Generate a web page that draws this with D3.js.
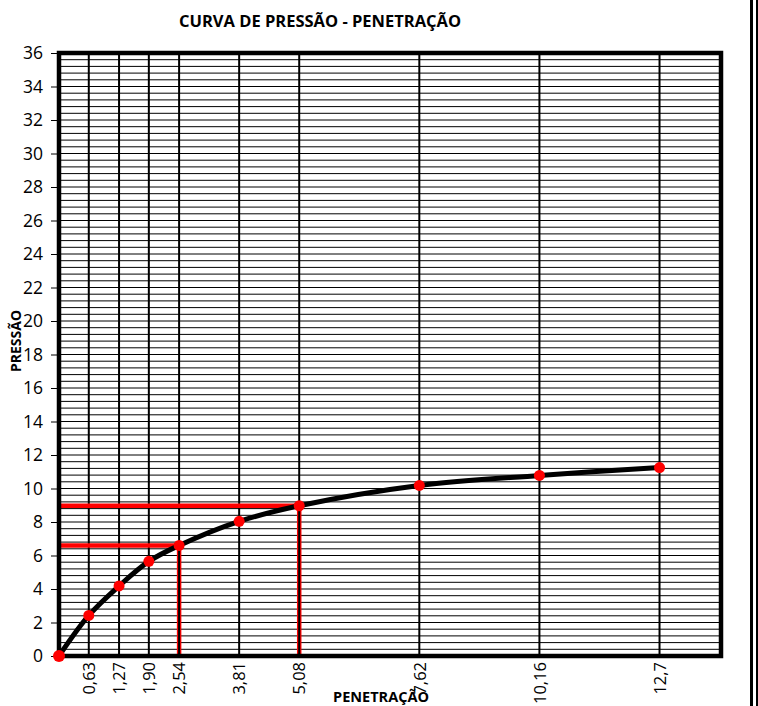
<!DOCTYPE html>
<html>
<head>
<meta charset="utf-8">
<script src="https://cdn.jsdelivr.net/npm/d3@7"></script>
<style>
  html, body { margin: 0; padding: 0; background: #fff; }
  svg { display: block; font-family: "Open Sans", sans-serif; }
</style>
</head>
<body>
<svg id="chart" width="758" height="706"></svg>
<script>
// Ensaio: penetração (mm) x pressão
const penetracao = [0, 0.63, 1.27, 1.90, 2.54, 3.81, 5.08, 7.62, 10.16, 12.7];
const pressao = [0, 2.42, 4.18, 5.65, 6.6, 8.04, 8.97, 10.18, 10.78, 11.25];
const xTickLabels = ["0,63", "1,27", "1,90", "2,54", "3,81", "5,08", "7,62", "10,16", "12,7"];
const yTicks = d3.range(0, 37, 2);
// Pontos de leitura destacados (penetração 2,54 e 5,08)
const leituraX = [2.54, 5.08];
const leituraY = [6.6, 8.97];

const svg = d3.select("#chart");
svg.append("rect").attr("width", 758).attr("height", 706).attr("fill", "#fff");

const x = d3.scaleLinear().domain([0, 14]).range([59, 721]);
const y = d3.scaleLinear().domain([0, 36]).range([656, 53]);

// Linhas de grade horizontais secundárias (passo 0,4)
const minor = d3.range(1, 90).map(i => i * 0.4);
svg.append("g").selectAll("line").data(minor).join("line")
  .attr("x1", x(0)).attr("x2", x(14))
  .attr("y1", d => y(d)).attr("y2", d => y(d))
  .attr("stroke", "#000").attr("stroke-width", 1);

// Linhas verticais de leitura (vermelhas)
svg.append("g").selectAll("line").data(leituraX).join("line")
  .attr("x1", d => x(d)).attr("x2", d => x(d))
  .attr("y1", (d, i) => y(leituraY[i])).attr("y2", y(0))
  .attr("stroke", "#ff0000").attr("stroke-width", 4.5);

// Grade vertical nas penetrações padrão
svg.append("g").selectAll("line").data(penetracao.slice(1)).join("line")
  .attr("x1", d => x(d)).attr("x2", d => x(d))
  .attr("y1", y(36)).attr("y2", y(0))
  .attr("stroke", "#000").attr("stroke-width", 2);

// Linhas horizontais de leitura (vermelhas)
svg.append("g").selectAll("line").data(leituraY).join("line")
  .attr("x1", x(0)).attr("x2", (d, i) => x(leituraX[i]))
  .attr("y1", d => y(d)).attr("y2", d => y(d))
  .attr("stroke", "#ff0000").attr("stroke-width", 4.5);

// Moldura da área de plotagem
svg.append("rect")
  .attr("x", x(0)).attr("y", y(36))
  .attr("width", x(14) - x(0)).attr("height", y(0) - y(36))
  .attr("fill", "none").attr("stroke", "#000").attr("stroke-width", 4.5);

// Eixo Y
const yAxis = d3.axisLeft(y).tickValues(yTicks).tickSize(6).tickPadding(8);
const gy = svg.append("g").attr("transform", `translate(${x(0) - 2},0)`).call(yAxis);
gy.select(".domain").remove();
gy.selectAll(".tick line").attr("stroke", "#000");
gy.selectAll(".tick text").attr("font-size", 17.5).attr("fill", "#000")
  .attr("font-family", "'Open Sans', sans-serif");

// Eixo X (rótulos girados)
const xAxis = d3.axisBottom(x).tickValues(penetracao.slice(1))
  .tickFormat((d, i) => xTickLabels[i]).tickSize(0);
const gx = svg.append("g").attr("transform", `translate(0,${y(0)})`).call(xAxis);
gx.select(".domain").remove();
gx.selectAll(".tick text")
  .attr("font-size", 16.5).attr("fill", "#000")
  .attr("font-family", "'Open Sans', sans-serif")
  .attr("text-anchor", "end")
  .attr("transform", "rotate(-90)")
  .attr("x", -6).attr("y", 0).attr("dy", "0.35em");

// Curva pressão-penetração
const line = d3.line()
  .x((d, i) => x(penetracao[i]))
  .y(d => y(d))
  .curve(d3.curveCatmullRom.alpha(0.5));
svg.append("path").datum(pressao)
  .attr("d", line)
  .attr("fill", "none").attr("stroke", "#000").attr("stroke-width", 5)
  .attr("stroke-linejoin", "round");

svg.append("g").selectAll("circle").data(pressao).join("circle")
  .attr("cx", (d, i) => x(penetracao[i]))
  .attr("cy", d => y(d))
  .attr("r", (d, i) => i === 0 ? 6 : 5.5).attr("fill", "#ff0000");

// Títulos
svg.append("text").attr("x", 320).attr("y", 27)
  .attr("text-anchor", "middle").attr("font-weight", "bold").attr("font-size", 16.5)
  .text("CURVA DE PRESSÃO - PENETRAÇÃO");

svg.append("text").attr("x", 381).attr("y", 702)
  .attr("text-anchor", "middle").attr("font-weight", "bold").attr("font-size", 14.5)
  .text("PENETRAÇÃO");

svg.append("text")
  .attr("transform", "translate(21,341) rotate(-90)")
  .attr("text-anchor", "middle").attr("font-weight", "bold").attr("font-size", 14)
  .text("PRESSÃO");

// Borda dupla à direita
svg.append("line").attr("x1", 751.5).attr("x2", 751.5).attr("y1", 0).attr("y2", 706)
  .attr("stroke", "#000").attr("stroke-width", 3);
svg.append("line").attr("x1", 757).attr("x2", 757).attr("y1", 0).attr("y2", 706)
  .attr("stroke", "#000").attr("stroke-width", 2);
</script>
</body>
</html>
